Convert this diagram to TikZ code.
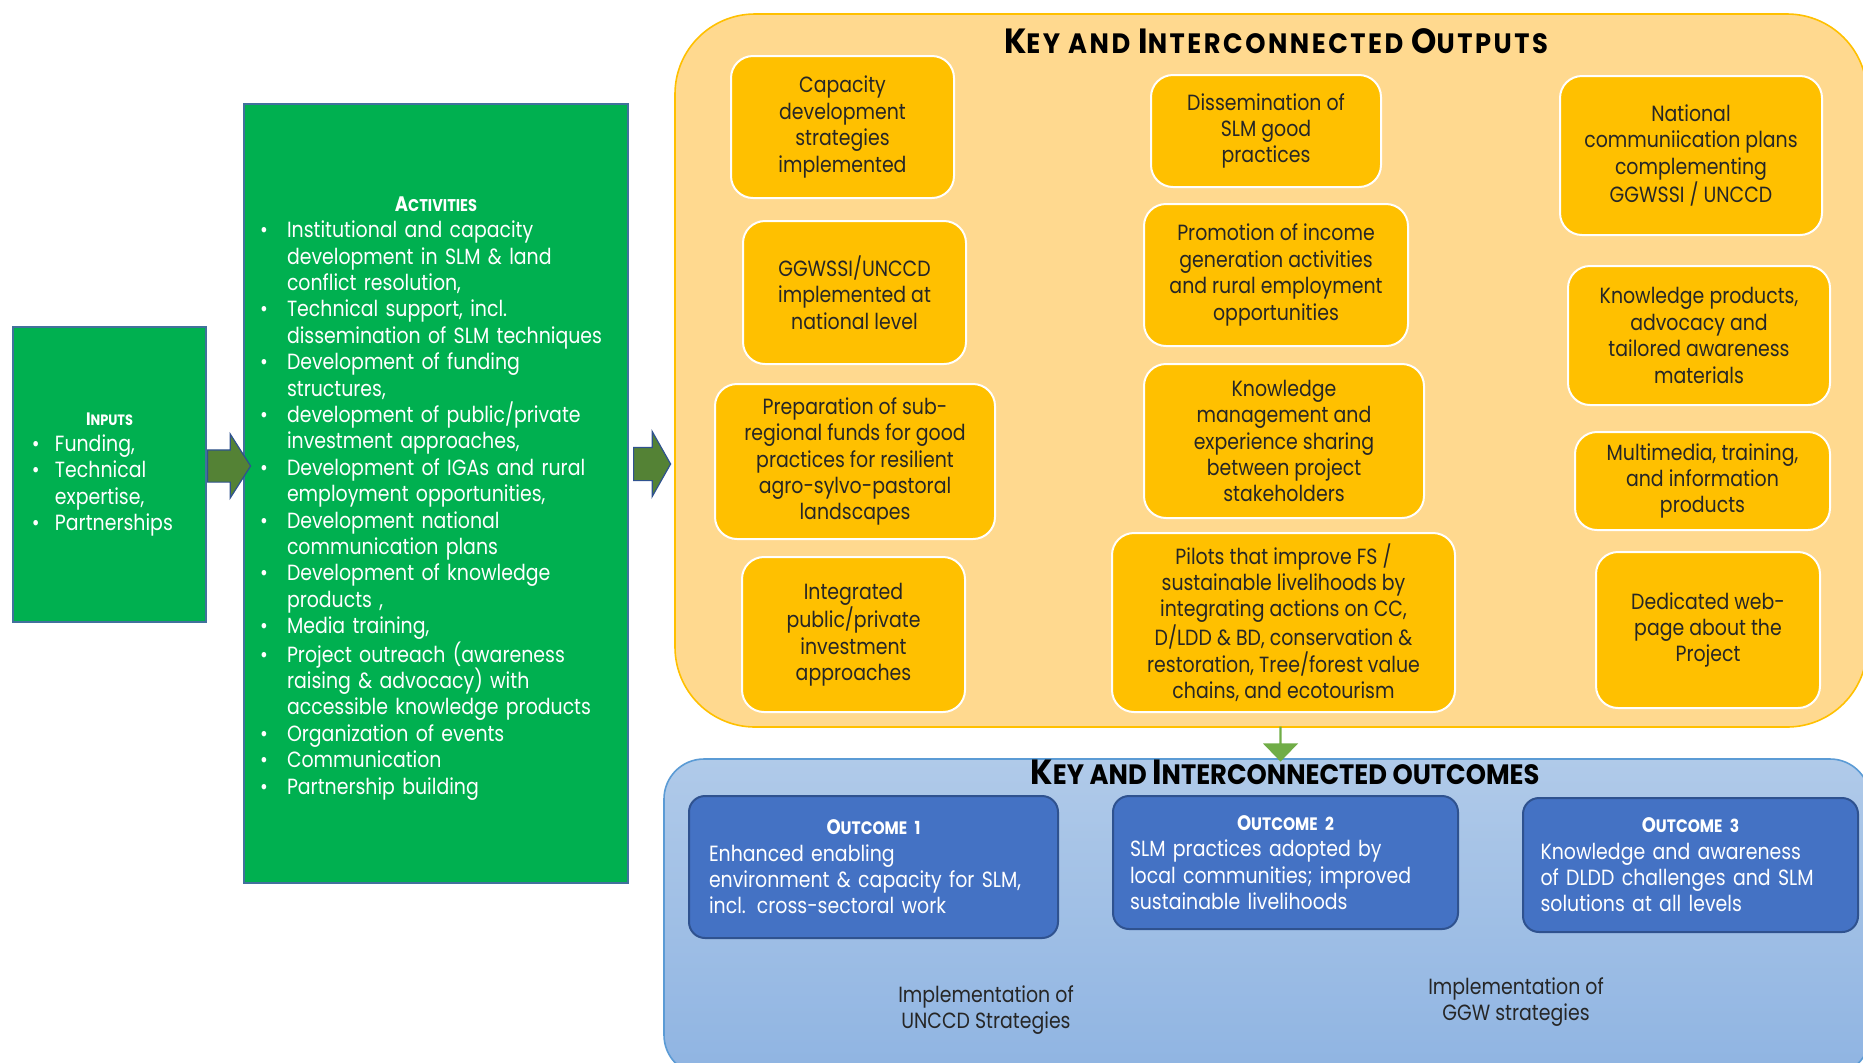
\documentclass[tikz,border=0pt]{standalone}
\usepackage{fontspec}
\setmainfont{Poppins}[FakeStretch=0.86]
\newfontfamily\headfont{Poppins}[FakeStretch=0.92]
\usetikzlibrary{shapes.arrows}

\definecolor{actgreen}{HTML}{00B050}
\definecolor{edgeblue}{HTML}{41719C}
\definecolor{arrowgreen}{HTML}{548235}
\definecolor{arrowedge}{HTML}{2F528F}
\definecolor{downgreen}{HTML}{70AD47}
\definecolor{outlight}{HTML}{FFD98F}
\definecolor{outorange}{HTML}{FFC000}
\definecolor{outtext}{HTML}{262626}
\definecolor{octop}{RGB}{176,202,233}
\definecolor{ocbottom}{RGB}{143,180,226}
\definecolor{ocedge}{HTML}{5B9BD5}
\definecolor{ocblue}{HTML}{4472C4}
\definecolor{ocdark}{HTML}{2F528F}

% hand-made small caps: size of the letters
\newcommand{\capsize}[2]{{\fontsize{#1}{#1}\selectfont #2}}
% bullet with hanging indent
\newcommand{\bulitem}[2]{\par\hangindent=#1\hangafter=1\noindent\makebox[#1][l]{\hspace{2pt}\textbullet}#2}

\tikzset{
  greenbox/.style={draw=edgeblue, line width=0.8pt, fill=actgreen, text=white, inner sep=0pt},
  outpanel/.style={draw=outorange, line width=0.8pt, fill=outlight, rounded corners=40pt, inner sep=0pt},
  outbox/.style={draw=white, line width=1pt, fill=outorange, rounded corners=11pt, align=center, text=outtext, inner sep=0pt},
  ocpanel/.style={draw=ocedge, line width=0.8pt, top color=octop, bottom color=ocbottom, rounded corners=20pt, inner sep=0pt},
  ocbox/.style={draw=ocdark, line width=1pt, fill=ocblue, rounded corners=8pt, text=white, inner xsep=10pt, inner ysep=0pt},
  headline/.style={font=\headfont\bfseries\fontsize{14}{14}\selectfont, text=black, inner sep=0pt},
  blockarrow/.style={single arrow, draw=arrowedge, fill=arrowgreen, line width=0.6pt, inner xsep=0pt, anchor=tail, single arrow head extend=8pt}
}

\begin{document}
\begin{tikzpicture}[x=0.5pt, y=-0.5pt, font=\fontsize{11}{13.2}\selectfont]
  \useasboundingbox (0,0) rectangle (1863,1062);
  \clip (0,0) rectangle (1863,1062);

  % the two large panels
  \node[outpanel, minimum width=596pt, minimum height=356.5pt] (outputs) at (1271,370.5) {};
  \node[ocpanel, minimum width=603pt, minimum height=158pt] (outcomes) at (1267,917) {};

  % inputs and activities
  \node[greenbox, minimum width=96.5pt, minimum height=147.5pt, text width=81.5pt] (inputs) at (109.5,474.5) {%
    {\centering\bfseries\capsize{9}{I}\capsize{7.5}{NPUTS}\par}
    \raggedright
    \bulitem{13.5pt}{Funding,}
    \bulitem{13.5pt}{Technical\newline expertise,}
    \bulitem{13.5pt}{Partnerships}};

  \node[greenbox, minimum width=192pt, minimum height=389.5pt, text width=180pt] (activities) at (436,493.5) {%
    {\centering\bfseries\rule{0pt}{12.2pt}\capsize{10.5}{A}\capsize{8.5}{CTIVITIES}\par}
    \raggedright
    \bulitem{15.5pt}{Institutional and capacity\newline development in SLM \& land\newline conflict resolution,}
    \bulitem{15.5pt}{Technical support,\ incl.\newline dissemination of SLM techniques}
    \bulitem{15.5pt}{Development of funding\newline structures,}
    \bulitem{15.5pt}{development of public/private\newline investment approaches,}
    \bulitem{15.5pt}{Development of IGAs and rural\newline employment opportunities,}
    \bulitem{15.5pt}{Development national\newline communication plans}
    \bulitem{15.5pt}{Development of knowledge\newline products ,}
    \bulitem{15.5pt}{Media training,}
    \bulitem{15.5pt}{Project outreach (awareness\newline raising \& advocacy) with\newline accessible knowledge products}
    \bulitem{15.5pt}{Organization of events}
    \bulitem{15.5pt}{Communication}
    \bulitem{15.5pt}{Partnership building}};

  % block arrows
  \node[blockarrow, inner ysep=7.75pt, minimum height=21.5pt, minimum width=31.5pt, single arrow tip angle=115] (arrowin) at (207,466) {};
  \node[blockarrow, inner ysep=8pt, minimum height=18.5pt, minimum width=32pt, single arrow tip angle=121] (arrowact) at (633,464) {};

  % outputs
  \node[headline] (outtitle) at (1276,41) {\addfontfeature{LetterSpace=9}\capsize{17.5}{K}EY AND \capsize{17.5}{I}NTERCONNECTED \capsize{17.5}{O}UTPUTS};

  \node[outbox, minimum width=111.5pt, minimum height=71pt] (capacity) at (842.5,127) {Capacity\\development\\strategies\\implemented};
  \node[outbox, minimum width=111.5pt, minimum height=71.5pt] (national) at (854.5,292.5) {GGWSSI/UNCCD\\implemented at\\national level};
  \node[outbox, minimum width=140pt, minimum height=77.5pt] (funds) at (855,461.5) {Preparation of sub-\\regional funds for good\\practices for resilient\\agro-sylvo-pastoral\\landscapes};
  \node[outbox, minimum width=111.5pt, minimum height=77.5pt] (invest) at (853.5,634.5) {Integrated\\public/private\\investment\\approaches};

  \node[outbox, minimum width=115pt, minimum height=56pt] (dissem) at (1266,131) {Dissemination of\\SLM good\\practices};
  \node[outbox, minimum width=132pt, minimum height=71pt] (income) at (1276,275) {Promotion of income\\generation activities\\and rural employment\\opportunities};
  \node[outbox, minimum width=140pt, minimum height=77pt] (kmanage) at (1284,441) {Knowledge\\management and\\experience sharing\\between project\\stakeholders};
  \node[outbox, minimum width=171.5pt, minimum height=89.5pt] (pilots) at (1283.5,622.5) {Pilots that improve FS /\\sustainable livelihoods by\\integrating actions on CC,\\D/LDD \& BD, conservation \&\\restoration, Tree/forest value\\chains, and ecotourism};

  \node[outbox, minimum width=131pt, minimum height=79.5pt] (complans) at (1691,155.5) {National\\communiication plans\\complementing\\GGWSSI / UNCCD};
  \node[outbox, minimum width=131pt, minimum height=69.5pt] (kproducts) at (1699,335.5) {Knowledge products,\\advocacy and\\tailored awareness\\materials};
  \node[outbox, minimum width=127.5pt, minimum height=49pt] (media) at (1702.5,481) {Multimedia, training,\\and information\\products};
  \node[outbox, minimum width=112pt, minimum height=78pt] (webpage) at (1708,630) {Dedicated web-\\page about the\\Project};

  % outputs lead to outcomes
  \node[blockarrow, draw=none, fill=downgreen, shape border rotate=270, inner ysep=4.75pt, minimum height=17.5pt, minimum width=17.5pt, single arrow head extend=4pt, single arrow tip angle=88] (arrowout) at (1280.5,726) {};

  % outcomes
  \node[headline] (octitle) at (1285,772.5) {\capsize{17.5}{K}EY AND \capsize{17.5}{I}NTERCONNECTED OUTCOMES};

  \node[ocbox, minimum width=184.5pt, minimum height=71pt, text width=164.5pt] (outcome1) at (873.5,867) {%
    {\centering\bfseries\capsize{10.5}{O}\capsize{9}{UTCOME 1}\par}
    \raggedright Enhanced enabling\\environment \& capacity for SLM,\\incl. cross-sectoral work};
  \node[ocbox, minimum width=172.5pt, minimum height=66.5pt, text width=155.5pt, inner xsep=8.5pt] (outcome2) at (1285.5,862.5) {%
    {\centering\bfseries\capsize{10.5}{O}\capsize{9}{UTCOME 2}\par}
    \raggedright SLM practices adopted by\\local communities; improved\\sustainable livelihoods};
  \node[ocbox, minimum width=167.5pt, minimum height=67pt, text width=150pt, inner xsep=8.75pt] (outcome3) at (1690.5,865) {%
    {\centering\bfseries\capsize{10.5}{O}\capsize{9}{UTCOME 3}\par}
    \raggedright Knowledge and awareness\\of DLDD challenges and SLM\\solutions at all levels};

  \node[align=center, text=outtext] (unccd) at (986,1010) {Implementation of\\UNCCD Strategies};
  \node[align=center, text=outtext] (ggw) at (1516,1002) {Implementation of\\GGW strategies};
\end{tikzpicture}
\end{document}
